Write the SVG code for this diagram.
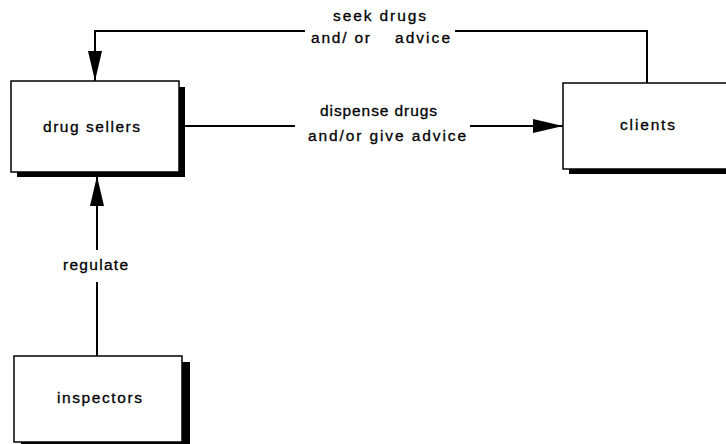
<svg xmlns="http://www.w3.org/2000/svg" width="726" height="444" viewBox="0 0 726 444">
  <style>
    .box { fill: #ffffff; stroke: #000000; stroke-width: 1.5; }
    .shadow { fill: #000000; }
    .wire { fill: none; stroke: #000000; stroke-width: 2; }
    .lbl { font-family: "Liberation Sans", Arial, sans-serif; font-size: 15.5px; fill: #000000; stroke: #000000; stroke-width: 0.3; }
  </style>
  <defs>
    <marker id="arrow" markerUnits="userSpaceOnUse" viewBox="0 0 30 14" refX="30" refY="7" markerWidth="30" markerHeight="14" orient="auto">
      <path d="M0,0 L30,7 L0,14 Z" fill="#000000"/>
    </marker>
  </defs>
  <rect width="726" height="444" fill="#ffffff"/>

  <!-- connectors -->
  <g id="connectors">
    <!-- clients back to drug sellers -->
    <path class="wire" d="M647,83 V31 H455"/>
    <path class="wire" d="M305,31 H95 V81" marker-end="url(#arrow)"/>
    <text class="lbl" x="333" y="21" textLength="93" lengthAdjust="spacing">seek drugs</text>
    <text class="lbl" x="311" y="43" textLength="59" lengthAdjust="spacing">and/ or</text>
    <text class="lbl" x="395" y="43" textLength="55" lengthAdjust="spacing">advice</text>

    <!-- drug sellers to clients -->
    <path class="wire" d="M185,126 H295"/>
    <path class="wire" d="M470,126 H563" marker-end="url(#arrow)"/>
    <text class="lbl" x="320" y="116" textLength="117" lengthAdjust="spacing">dispense drugs</text>
    <text class="lbl" x="308" y="141" textLength="158" lengthAdjust="spacing">and/or give advice</text>

    <!-- inspectors to drug sellers -->
    <path class="wire" d="M97,356 V282"/>
    <path class="wire" d="M97,250 V176" marker-end="url(#arrow)"/>
    <text class="lbl" x="63" y="270" textLength="65" lengthAdjust="spacing">regulate</text>
  </g>

  <g id="drug-sellers">
    <rect class="shadow" x="17" y="87" width="168" height="90"/>
    <rect class="box" x="11" y="81" width="168" height="91"/>
    <text class="lbl" x="43" y="132" textLength="97" lengthAdjust="spacing">drug sellers</text>
  </g>

  <g id="clients">
    <rect class="shadow" x="569" y="89" width="200" height="85"/>
    <rect class="box" x="563" y="83" width="200" height="86"/>
    <text class="lbl" x="620" y="130" textLength="55" lengthAdjust="spacing">clients</text>
  </g>

  <g id="inspectors">
    <rect class="shadow" x="21" y="362" width="169" height="90"/>
    <rect class="box" x="14" y="356" width="168" height="86"/>
    <text class="lbl" x="57" y="403" textLength="85" lengthAdjust="spacing">inspectors</text>
  </g>
</svg>
